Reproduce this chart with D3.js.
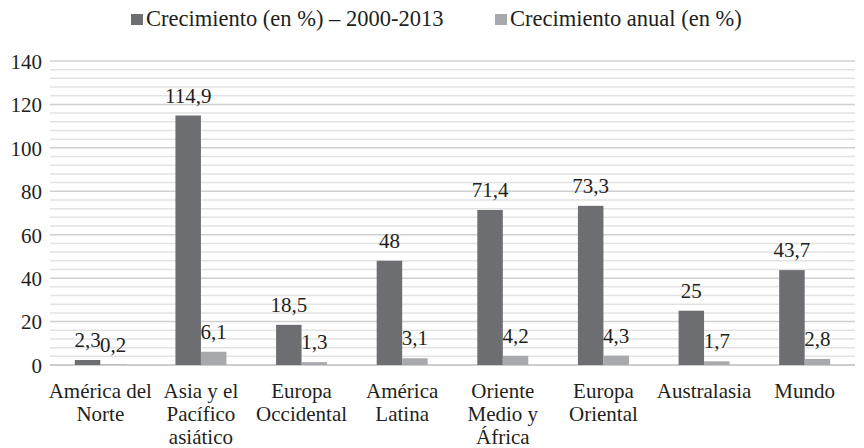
<!DOCTYPE html>
<html>
<head>
<meta charset="utf-8">
<script src="https://cdn.jsdelivr.net/npm/d3@7"></script>
<style>
html,body{margin:0;padding:0;background:#fff;}
svg{display:block;}
html body svg#chart text, html body svg#chart tspan, html body svg#chart g text{font-family:"Liberation Serif", serif !important;}
</style>
</head>
<body>
<svg id="chart" width="864" height="448"></svg>
<script>
const categories = [["América del","Norte"],["Asia y el","Pacífico","asiático"],["Europa","Occidental"],["América","Latina"],["Oriente","Medio y","África"],["Europa","Oriental"],["Australasia"],["Mundo"]];
const seriesNames = ["Crecimiento (en %) – 2000-2013","Crecimiento anual (en %)"];
const growthTotal = [2.3,114.9,18.5,48,71.4,73.3,25,43.7];
const growthAnnual = [0.2,6.1,1.3,3.1,4.2,4.3,1.7,2.8];
const yTicks = [0,20,40,60,80,100,120,140];
const colors = ["#6d6e71","#a7a9ac"];

const FONT = "Liberation Serif";
const TXT = "#231f20";
const svg = d3.select("#chart");
svg.append("rect").attr("width",864).attr("height",448).attr("fill","#fff");
const W = 864, H = 448;
const m = {left:50, right:9, top:61, bottom:83};
const x0 = d3.scaleBand().domain(d3.range(categories.length)).range([m.left, W-m.right]).padding(0);
const y = d3.scaleLinear().domain([0,140]).range([H-m.bottom, m.top]);
const barW = 25.5;

function styleText(sel, size){
  sel.attr("font-family",FONT).attr("font-size",size).attr("fill",TXT);
  sel.each(function(){ this.style.setProperty("font-family","'Liberation Serif', serif","important"); this.style.setProperty("font-size",size+"px"); });
  return sel;
}

// minor gridlines every 4
const g = svg.append("g");
g.selectAll("line.minor").data(d3.range(0,141,4).filter(v=>v%20!==0)).join("line")
  .attr("class","minor")
  .attr("x1",m.left).attr("x2",W-m.right).attr("y1",d=>y(d)).attr("y2",d=>y(d))
  .attr("stroke","#e3e3e3").attr("stroke-width",1.5);
g.selectAll("line.major").data(yTicks).join("line")
  .attr("class","major")
  .attr("x1",m.left).attr("x2",W-m.right).attr("y1",d=>y(d)).attr("y2",d=>y(d))
  .attr("stroke",d=>d===0?"#bcbcbc":"#d0d0d0").attr("stroke-width",1.5);

// y axis labels
const yAxis = d3.axisLeft(y).tickValues(yTicks).tickSize(0).tickPadding(8).tickFormat(d3.format("d"));
const ya = svg.append("g").attr("transform",`translate(${m.left},0)`).call(yAxis);
ya.select(".domain").remove();
ya.attr("font-family",FONT).attr("font-size",21);
styleText(ya.selectAll("text"),21).attr("dy","0.35em");

const fmt = v => String(v).replace(".",",");
const series = [growthTotal, growthAnnual];
series.forEach((vals,si)=>{
  const grp = svg.append("g").attr("font-family",FONT);
  grp.selectAll("rect").data(vals).join("rect")
    .attr("x",(d,i)=>x0(i)+x0.bandwidth()/2 - barW + si*barW)
    .attr("width",barW)
    .attr("y",d=>y(d)).attr("height",d=>y(0)-y(d))
    .attr("fill",colors[si]);
  styleText(grp.selectAll("text").data(vals).join("text"),21)
    .attr("x",(d,i)=>x0(i)+x0.bandwidth()/2 - barW/2 + si*barW)
    .attr("y",d=>y(d)-13)
    .attr("text-anchor","middle")
    .text(fmt);
});

// x labels
const xl = svg.append("g").attr("font-family",FONT);
categories.forEach((lines,i)=>{
  const cx = x0(i)+x0.bandwidth()/2;
  const t = styleText(xl.append("text"),21).attr("text-anchor","middle")
    .attr("x",cx).attr("y",H-m.bottom+33);
  lines.forEach((ln,j)=>t.append("tspan").attr("x",cx).attr("dy",j===0?0:23).text(ln));
});

// legend
const legX = [131,495];
seriesNames.forEach((n,i)=>{
  svg.append("rect").attr("x",legX[i]).attr("y",14).attr("width",12).attr("height",11).attr("fill",colors[i]);
  styleText(svg.append("text"),22.5).attr("x",legX[i]+15).attr("y",26).text(n);
});
</script>
</body>
</html>
